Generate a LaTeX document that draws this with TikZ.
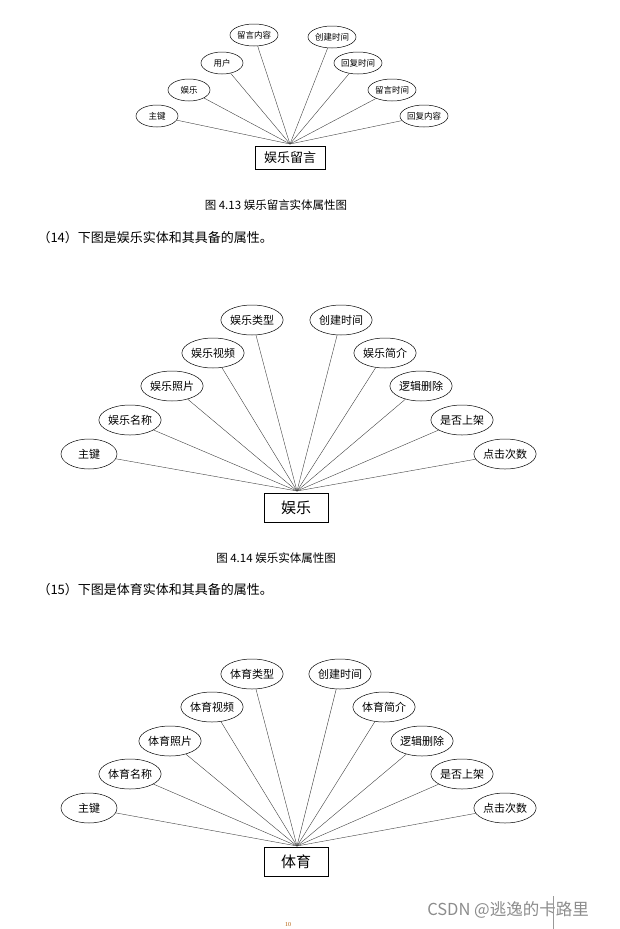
\documentclass[tikz,border=0pt]{standalone}
\usepackage{fontspec}
\setmainfont{Liberation Serif}
\newfontfamily\cjk{Noto Sans CJK SC}
\newfontfamily\cjksans{Noto Sans CJK SC}
\usetikzlibrary{shapes.geometric}
\begin{document}
\begin{tikzpicture}[x=1pt,y=-1pt,
  attA/.style={ellipse,draw,line width=0.5pt,minimum width=42pt,minimum height=22pt,inner sep=0pt,font=\cjk\fontsize{8.5}{9}\selectfont},
  attB/.style={ellipse,draw,line width=0.5pt,minimum width=56pt,minimum height=30pt,inner sep=0pt,font=\cjk\fontsize{11}{12}\selectfont},
  entA/.style={draw,line width=0.5pt,minimum width=70pt,minimum height=23pt,font=\cjk\fontsize{13}{14}\selectfont},
  entB/.style={draw,line width=0.5pt,minimum width=64pt,minimum height=29pt,font=\cjk\fontsize{15}{16}\selectfont},
  captext/.style={font=\cjk\fontsize{11.5}{13}\selectfont},
  para/.style={anchor=west,font=\cjk\fontsize{13}{15}\selectfont},
  link/.style={draw=black!75,line width=0.4pt}]
\useasboundingbox (0,0) rectangle (620,929);
% ---- diagram 1
\coordinate (h1) at (290,144);
\node[entA] (e1) at (290,158) {娱乐留言};
\node[attA] (a1) at (157,116) {主键};
\node[attA] (a2) at (189,90) {娱乐};
\node[attA] (a3) at (222,63) {用户};
\node[attA,minimum width=44pt] (a4) at (254,35) {留言内容};
\node[attA,minimum width=44pt] (a5) at (332,37) {创建时间};
\node[attA,minimum width=44pt] (a6) at (358,63) {回复时间};
\node[attA,minimum width=44pt] (a7) at (392,90) {留言时间};
\node[attA,minimum width=44pt] (a8) at (424,116) {回复内容};
\foreach \n in {a1,a2,a3,a4,a5,a6,a7,a8} \path[link] (h1) -- (\n);
\node[captext] (c1) at (276,205) {图 4.13 娱乐留言实体属性图};
\node[para] (p1) at (34,238) {（14）下图是娱乐实体和其具备的属性。};
% ---- diagram 2
\coordinate (h2) at (297,491);
\node[entB] (e2) at (296,508) {娱乐};
\node[attB] (b1) at (89,454) {主键};
\node[attB] (b2) at (130,420) {娱乐名称};
\node[attB] (b3) at (172,386) {娱乐照片};
\node[attB] (b4) at (213,353) {娱乐视频};
\node[attB] (b5) at (252,320) {娱乐类型};
\node[attB] (b6) at (341,320) {创建时间};
\node[attB] (b7) at (385,353) {娱乐简介};
\node[attB] (b8) at (421,386) {逻辑删除};
\node[attB] (b9) at (462,420) {是否上架};
\node[attB] (b10) at (505,454) {点击次数};
\foreach \n in {b1,b2,b3,b4,b5,b6,b7,b8,b9,b10} \path[link] (h2) -- (\n);
\node[captext] (c2) at (276,558) {图 4.14 娱乐实体属性图};
\node[para] (p2) at (34,590) {（15）下图是体育实体和其具备的属性。};
% ---- diagram 3
\coordinate (h3) at (297,846);
\node[entB] (e3) at (296,862) {体育};
\node[attB] (d1) at (89,808) {主键};
\node[attB] (d2) at (130,774) {体育名称};
\node[attB] (d3) at (170,741) {体育照片};
\node[attB] (d4) at (212,707) {体育视频};
\node[attB] (d5) at (252,674) {体育类型};
\node[attB] (d6) at (340,674) {创建时间};
\node[attB] (d7) at (384,707) {体育简介};
\node[attB] (d8) at (422,741) {逻辑删除};
\node[attB] (d9) at (462,774) {是否上架};
\node[attB] (d10) at (505,808) {点击次数};
\foreach \n in {d1,d2,d3,d4,d5,d6,d7,d8,d9,d10} \path[link] (h3) -- (\n);
% ---- footer
\node[font=\fontsize{6}{7}\selectfont,text=orange!70!black] (pg) at (288,925) {10};
\node[font=\cjksans\fontsize{16.5}{18}\selectfont,text=black!45] (wm) at (508,910) {CSDN @逃逸的卡路里};
\draw[black!40,line width=0.4pt] (553,896) -- (553,929);
\end{tikzpicture}
\end{document}
